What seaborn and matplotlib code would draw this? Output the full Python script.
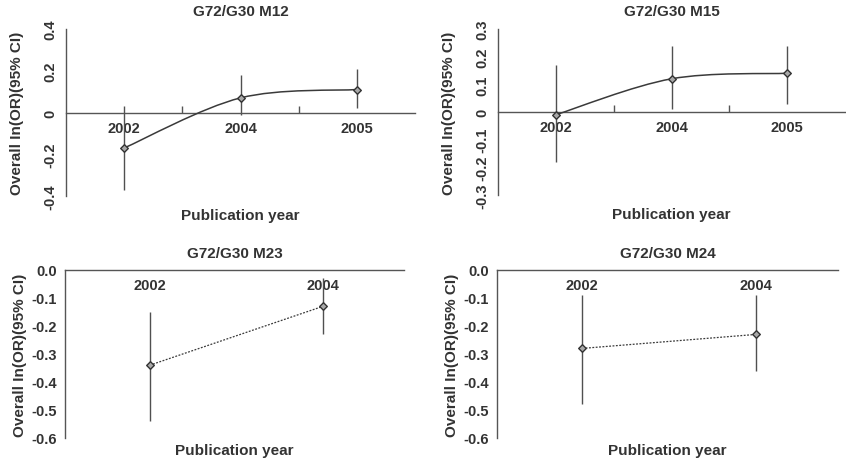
import numpy as np
import pandas as pd
import matplotlib
matplotlib.use("Agg")
import matplotlib.pyplot as plt
from matplotlib.path import Path
from matplotlib.patches import PathPatch
from matplotlib.ticker import FixedLocator
import seaborn as sns

# ---- data ----
titles = ["G72/G30 M12", "G72/G30 M15", "G72/G30 M23", "G72/G30 M24"]
years_m12 = ["2002", "2004", "2005"]
est_m12 = [-0.17, 0.07, 0.11]
lo_m12 = [-0.37, -0.01, 0.02]
hi_m12 = [0.03, 0.18, 0.21]

years_m15 = ["2002", "2004", "2005"]
est_m15 = [-0.01, 0.12, 0.14]
lo_m15 = [-0.18, 0.01, 0.03]
hi_m15 = [0.17, 0.24, 0.24]

years_m23 = ["2002", "2004"]
est_m23 = [-0.34, -0.13]
lo_m23 = [-0.54, -0.23]
hi_m23 = [-0.15, -0.03]

years_m24 = ["2002", "2004"]
est_m24 = [-0.28, -0.23]
lo_m24 = [-0.48, -0.36]
hi_m24 = [-0.09, -0.09]

ylabel = "Overall In(OR)(95% CI)"
xlabel = "Publication year"

sns.set_theme(style="white")
plt.rcParams['font.family'] = ['Liberation Sans', 'DejaVu Sans']
plt.rcParams['font.weight'] = 'bold'

fig = plt.figure(figsize=(8.46, 4.6), dpi=100)
W, H = 846, 460


def px_axes(x0, x1, ytop, ybot):
    return fig.add_axes([x0 / W, 1 - ybot / H, (x1 - x0) / W, (ybot - ytop) / H])


axes = [
    px_axes(66, 415, 30, 197),
    px_axes(498, 845, 30, 196),
    px_axes(65, 404, 271, 439),
    px_axes(497, 838, 271, 439),
]

panels = [
    (years_m12, est_m12, lo_m12, hi_m12, (-0.4, 0.4), 0.2, True),
    (years_m15, est_m15, lo_m15, hi_m15, (-0.3, 0.3), 0.1, True),
    (years_m23, est_m23, lo_m23, hi_m23, (-0.6, 0.0), 0.1, False),
    (years_m24, est_m24, lo_m24, hi_m24, (-0.6, 0.0), 0.1, False),
]

axis_col = "#555555"
line_col = "#3a3a3a"
text_col = "#333333"
FS_TICK = 10.5
FS_LAB = 11
FS_TITLE = 11

for ax, title, (yrs, est, lo, hi, ylim, ystep, top) in zip(axes, titles, panels):
    df = pd.DataFrame({"pos": np.arange(len(yrs)), "est": est, "lo": lo, "hi": hi})
    ax.vlines(df["pos"], df["lo"], df["hi"], color="#505050", lw=1.0, zorder=2)
    if top:
        # smooth (Excel-style Bezier) connecting line through the points
        P = df[["pos", "est"]].to_numpy(dtype=float)
        n = len(P)
        verts = [tuple(P[0])]
        codes = [Path.MOVETO]
        for i in range(n - 1):
            p_prev = P[i - 1] if i > 0 else P[i]
            p_next2 = P[i + 2] if i + 2 < n else P[i + 1]
            c1 = P[i] + (P[i + 1] - p_prev) / 6.0
            c2 = P[i + 1] - (p_next2 - P[i]) / 6.0
            verts += [tuple(c1), tuple(c2), tuple(P[i + 1])]
            codes += [Path.CURVE4] * 3
        patch = PathPatch(Path(verts, codes), facecolor="none", edgecolor=line_col,
                          lw=1.1, zorder=3)
        ax.add_patch(patch)
    else:
        sns.lineplot(data=df, x="pos", y="est", ax=ax, color=line_col, lw=0.9,
                     linestyle=(0, (1.5, 1.2)), zorder=3)
    sns.scatterplot(data=df, x="pos", y="est", ax=ax, marker="D", s=15,
                    color="#a8a8a8", edgecolor="#333333", linewidth=1.0, zorder=4)

    n = len(yrs)
    if n == 3:
        ax.set_xlim(-0.5, 2.5)
    else:
        ax.set_xlim(-0.49, 1.47)
    ax.set_ylim(*ylim)

    for s in ["top", "right"]:
        ax.spines[s].set_visible(False)
    ax.spines["bottom"].set_position(("data", 0))
    for s in ["left", "bottom"]:
        ax.spines[s].set_color(axis_col)
        ax.spines[s].set_linewidth(1.0)

    ax.xaxis.set_major_locator(FixedLocator(list(range(n))))
    ax.set_xticklabels(yrs)
    if top:
        ax.xaxis.set_minor_locator(FixedLocator([i + 0.5 for i in range(n - 1)]))
    ax.tick_params(axis="x", which="major", length=0, pad=6, labelsize=FS_TICK,
                   labelcolor=text_col)
    ax.tick_params(axis="x", which="minor", length=5, direction="in", color=axis_col,
                   width=1.0, bottom=True)

    ticks = np.round(np.arange(ylim[0], ylim[1] + 1e-9, ystep), 2)
    ax.set_yticks(ticks)
    if top:
        ax.set_yticklabels([("%g" % t) if abs(t) > 1e-9 else "0" for t in ticks])
        ax.tick_params(axis="y", length=3, direction="out", color=axis_col, width=1.0,
                       labelsize=FS_TICK, labelcolor=text_col, pad=3)
        for lab in ax.get_yticklabels():
            lab.set_rotation(90)
            lab.set_va("center")
    else:
        ax.set_yticklabels(["%.1f" % t if abs(t) > 1e-9 else "0.0" for t in ticks])
        ax.tick_params(axis="y", length=3, direction="out", color=axis_col, width=1.0,
                       labelsize=FS_TICK, labelcolor=text_col, pad=3)

    ax.set_title(title, fontsize=FS_TITLE, fontweight="bold", color=text_col,
                 pad=10 if top else 9)
    ax.set_ylabel(ylabel, fontsize=FS_LAB, fontweight="bold", color=text_col,
                  labelpad=14 if top else 3)
    ax.set_xlabel("")
    if top:
        ax.text(0.5, -0.07, xlabel, transform=ax.transAxes, ha="center", va="top",
                fontsize=FS_LAB, fontweight="bold", color=text_col)
    else:
        ax.text(0.5, -0.03, xlabel, transform=ax.transAxes, ha="center", va="top",
                fontsize=FS_LAB, fontweight="bold", color=text_col)
    ax.set_facecolor("white")
    ax.grid(False)

fig.savefig("out.png", dpi=100, facecolor="white")
